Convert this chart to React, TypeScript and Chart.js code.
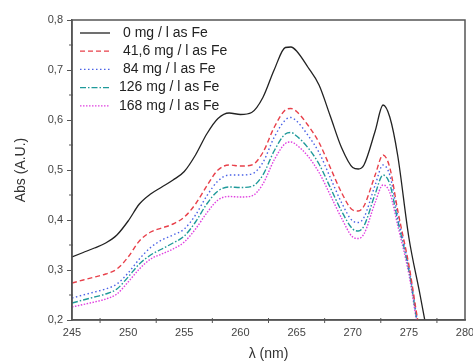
import React, { useEffect, useRef } from "react";
import { Chart, registerables } from "chart.js";

Chart.register(...registerables);

const wavelengths = [245, 246, 247, 248, 249, 250, 251, 252, 253, 254, 255, 256, 257, 258, 259, 260, 261, 262, 263, 264, 264.5, 265, 266, 267, 268, 269, 270, 270.5, 271, 272, 272.7, 273.3, 274, 275, 276, 277];

const fe0 = [0.326, 0.335, 0.344, 0.354, 0.370, 0.398, 0.432, 0.452, 0.466, 0.480, 0.497, 0.530, 0.572, 0.603, 0.614, 0.611, 0.615, 0.645, 0.700, 0.745, 0.746, 0.738, 0.706, 0.670, 0.608, 0.545, 0.505, 0.502, 0.510, 0.578, 0.630, 0.606, 0.530, 0.365, 0.250, 0.130];
const fe41 = [0.274, 0.280, 0.286, 0.292, 0.302, 0.326, 0.358, 0.376, 0.384, 0.392, 0.406, 0.432, 0.468, 0.500, 0.510, 0.508, 0.510, 0.535, 0.585, 0.620, 0.623, 0.617, 0.590, 0.555, 0.505, 0.455, 0.420, 0.418, 0.428, 0.490, 0.530, 0.505, 0.420, 0.310, 0.175, 0.100];
const fe84 = [0.244, 0.250, 0.256, 0.262, 0.272, 0.294, 0.322, 0.345, 0.360, 0.370, 0.382, 0.410, 0.448, 0.478, 0.490, 0.490, 0.492, 0.515, 0.565, 0.600, 0.605, 0.598, 0.570, 0.535, 0.485, 0.435, 0.398, 0.395, 0.405, 0.470, 0.510, 0.490, 0.410, 0.305, 0.170, 0.100];
const fe126 = [0.234, 0.240, 0.246, 0.252, 0.262, 0.286, 0.312, 0.330, 0.342, 0.354, 0.368, 0.396, 0.432, 0.458, 0.466, 0.465, 0.467, 0.490, 0.538, 0.572, 0.575, 0.568, 0.545, 0.512, 0.465, 0.418, 0.382, 0.378, 0.388, 0.452, 0.490, 0.472, 0.400, 0.300, 0.165, 0.100];
const fe168 = [0.226, 0.231, 0.236, 0.242, 0.252, 0.276, 0.302, 0.322, 0.332, 0.342, 0.356, 0.382, 0.414, 0.440, 0.447, 0.446, 0.448, 0.472, 0.520, 0.553, 0.556, 0.550, 0.528, 0.495, 0.450, 0.404, 0.366, 0.363, 0.372, 0.435, 0.470, 0.455, 0.390, 0.292, 0.160, 0.100];

const seriesLabels = ["0 mg / l as Fe", "41,6 mg / l as Fe", "84 mg / l as Fe", "126 mg / l as Fe", "168 mg / l as Fe"];
const seriesValues = [fe0, fe41, fe84, fe126, fe168];
const seriesColors = ["#222222", "#e8404a", "#4a62e6", "#1f9a9a", "#e040e0"];
const seriesDashes: number[][] = [[], [5, 3], [1.5, 2.5], [6, 2, 1.5, 2], [1.5, 1.5]];

const xTicks = [245, 250, 255, 260, 265, 270, 275, 280];
const yTicks = [0.2, 0.3, 0.4, 0.5, 0.6, 0.7, 0.8];

const FONT = "'Liberation Sans', Arial, sans-serif";
const AXIS = "#555555";

const framePlugin = {
  id: "frame",
  afterDraw(chart: any) {
    const { ctx, chartArea: a, scales } = chart;
    ctx.save();
    ctx.strokeStyle = AXIS;
    ctx.lineWidth = 1.5;
    ctx.strokeRect(a.left, a.top, a.right - a.left, a.bottom - a.top);
    ctx.lineWidth = 1;
    for (let i = 0; i < yTicks.length - 1; i++) {
      const v = (yTicks[i] + yTicks[i + 1]) / 2;
      const y = scales.y.getPixelForValue(v);
      ctx.beginPath();
      ctx.moveTo(a.left - 3, y);
      ctx.lineTo(a.left + 1, y);
      ctx.stroke();
    }
    for (let i = 0; i < xTicks.length - 1; i++) {
      const v = (xTicks[i] + xTicks[i + 1]) / 2;
      const x = scales.x.getPixelForValue(v);
      ctx.beginPath();
      ctx.moveTo(x, a.bottom - 2);
      ctx.lineTo(x, a.bottom + 3);
      ctx.stroke();
    }
    ctx.font = `14px ${FONT}`;
    ctx.textBaseline = "middle";
    ctx.textAlign = "left";
    const x0 = a.left + 8;
    for (let i = 0; i < seriesLabels.length; i++) {
      const y = a.top + 13 + i * 18.2;
      ctx.strokeStyle = seriesColors[i];
      ctx.lineWidth = 1.3;
      ctx.setLineDash(seriesDashes[i]);
      ctx.beginPath();
      ctx.moveTo(x0, y);
      ctx.lineTo(x0 + 30, y);
      ctx.stroke();
      ctx.setLineDash([]);
      ctx.fillStyle = "#222222";
      const tx = i >= 3 ? x0 + 39 : x0 + 43;
      ctx.fillText(seriesLabels[i], tx, y);
    }
    ctx.restore();
  },
};

export default function App() {
  const ref = useRef<HTMLCanvasElement | null>(null);
  useEffect(() => {
    if (!ref.current) return;
    const chart = new Chart(ref.current, {
      type: "line",
      data: {
        labels: wavelengths,
        datasets: seriesValues.map((vals, i) => ({
          label: seriesLabels[i],
          data: vals.map((v, j) => ({ x: wavelengths[j], y: v })),
          borderColor: seriesColors[i],
          borderWidth: i === 0 ? 1.3 : 1.4,
          borderDash: seriesDashes[i],
          pointRadius: 0,
          cubicInterpolationMode: "monotone" as const,
          fill: false,
        })),
      },
      options: {
        animation: false,
        responsive: false,
        layout: { padding: { top: 20, right: 8, left: 0, bottom: 0 } },
        plugins: { legend: { display: false }, tooltip: { enabled: false } },
        scales: {
          x: {
            type: "linear",
            min: 245,
            max: 280,
            afterBuildTicks: (s: any) => {
              s.ticks = xTicks.map((v) => ({ value: v }));
            },
            afterFit: (s: any) => {
              s.height = 43;
              s.paddingRight = 0;
              s.paddingLeft = 0;
            },
            grid: { display: false, drawOnChartArea: false, drawTicks: false },
            border: { display: true, color: AXIS, width: 1.5 },
            ticks: {
              color: "#444444",
              font: { family: FONT, size: 11 },
              padding: 6,
              maxRotation: 0,
              callback: (v: any) => String(v),
            },
            title: {
              display: true,
              text: "λ (nm)",
              color: "#333333",
              font: { family: FONT, size: 14 },
              padding: { top: 0, bottom: 0 },
            },
          },
          y: {
            type: "linear",
            min: 0.2,
            max: 0.8,
            afterBuildTicks: (s: any) => {
              s.ticks = yTicks.map((v) => ({ value: v }));
            },
            afterFit: (s: any) => {
              s.width = 72;
              s.paddingTop = 0;
              s.paddingBottom = 0;
            },
            grid: { drawOnChartArea: false, drawTicks: true, tickLength: 5, color: AXIS, lineWidth: 1 },
            border: { display: true, color: AXIS, width: 1.5 },
            ticks: {
              color: "#444444",
              font: { family: FONT, size: 11 },
              padding: 4,
              callback: (v: any) => Number(v).toFixed(1).replace(".", ","),
            },
            title: {
              display: true,
              text: "Abs (A.U.)",
              color: "#333333",
              font: { family: FONT, size: 14 },
              padding: { top: 13, bottom: 0 },
            },
          },
        },
      },
      plugins: [framePlugin],
    });
    return () => chart.destroy();
  }, []);
  return (
    <div style={{ position: "fixed", left: 0, top: 0, width: 473, height: 363, background: "#fff" }}>
      <canvas ref={ref} width={473} height={363} style={{ width: 473, height: 363 }} />
    </div>
  );
}
